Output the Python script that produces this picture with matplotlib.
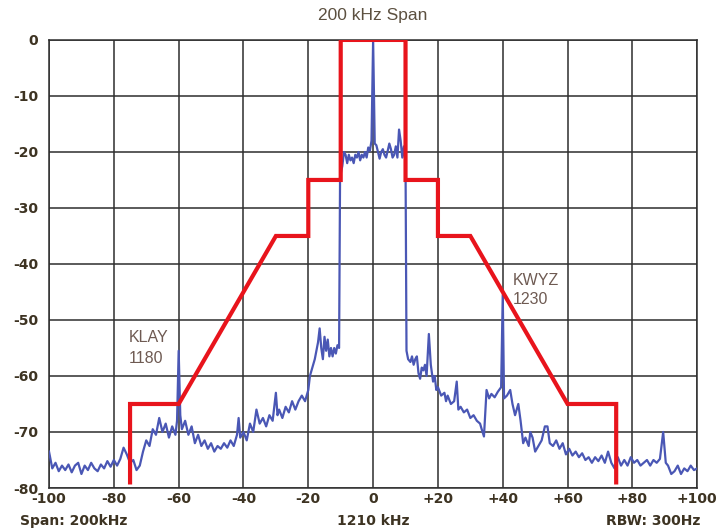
import matplotlib.pyplot as plt

# Mascara (limite) en rojo
mask_khz = [-75, -75, -60, -30, -20, -20, -10, -10, 10, 10, 20, 20, 30, 60, 75, 75]
mask_db = [-79, -65, -65, -35, -35, -25, -25, 0, 0, -25, -25, -35, -35, -65, -65, -79]

freq_khz = [
    -100, -99, -98, -97, -96, -95, -94, -93, -92, -91, -90, -89, -88, -87, -86,
    -85, -84, -83, -82, -81, -80, -79, -78, -77, -76, -75, -74, -73, -72, -71,
    -70, -69, -68, -67, -66, -65, -64, -63, -62, -61, -60.5, -60, -59.5, -59,
    -58, -57, -56, -55, -54, -53, -52, -51, -50, -49, -48, -47, -46, -45, -44,
    -43, -42, -41.5, -41, -40, -39, -38, -37, -36, -35, -34, -33, -32, -31, -30,
    -29.5, -29, -28, -27, -26, -25, -24, -23, -22, -21, -20, -19.5, -19, -18,
    -17, -16.5, -16, -15.5, -15, -14.5, -14, -13.5, -13, -12.5, -12, -11.5, -11,
    -10.5, -10.2, -9.5, -9, -8.5, -8, -7.5, -7, -6.5, -6, -5.5, -5, -4.5, -4,
    -3.5, -3, -2.5, -2, -1.5, -1, -0.5, 0, 0.5, 1, 1.5, 2, 2.5, 3, 3.5, 4, 4.5,
    5, 5.5, 6, 6.5, 7, 7.5, 8, 8.5, 9, 9.5, 10, 10.3, 10.8, 11.5, 12, 12.5, 13,
    13.5, 14, 14.5, 15, 15.5, 16, 16.5, 17.2, 17.8, 18.5, 19, 19.5, 20, 21, 22,
    22.5, 23, 24, 25, 25.8, 26.3, 27, 28, 29, 30, 31, 32, 33, 33.5, 34.2, 35,
    35.8, 36.5, 37.5, 38.5, 39.5, 40, 40.4, 41.3, 42.3, 43, 43.8, 44.8, 45.5,
    46.3, 47, 48, 48.5, 49.2, 50, 51, 52, 53, 53.8, 54.5, 55.5, 56.5, 57.5,
    58.5, 59.5, 60.5, 61.5, 62.5, 63.5, 64.5, 65.5, 66.5, 67.5, 68.5, 69.5,
    70.5, 71.5, 72.5, 73.5, 74.5, 75.5, 76.5, 77.5, 78.5, 79.5, 80.5, 81.5,
    82.5, 83.5, 84.5, 85.5, 86.5, 87.5, 88.5, 89.5, 90.3, 91, 92, 93, 94, 95,
    96, 97, 98, 99, 100]
level_db = [
    -73.5, -76.5, -75.5, -77, -76, -76.8, -75.8, -77.2, -76, -75.5, -77.5, -76,
    -76.8, -75.5, -76.5, -77, -75.8, -76.5, -75.2, -76.2, -75, -76, -74.8, -72.8,
    -74, -75.5, -75, -76.8, -76, -73.5, -71.5, -72.5, -69.5, -70.5, -67.5, -70,
    -68.5, -71, -69, -70.5, -68, -55.5, -67, -69.5, -68, -70.5, -69, -72, -70.5,
    -72.5, -71.5, -73, -72, -73.5, -72.5, -73, -72, -72.8, -71.5, -72.5, -70.5,
    -67.5, -71, -70, -71.5, -68.5, -70, -66, -68.5, -67.5, -69, -67, -68, -63,
    -67, -66, -67.5, -65.5, -66.5, -64.5, -66, -64.5, -63.5, -64.5, -62.5, -60,
    -59, -57, -54, -51.5, -55, -57, -53, -55.5, -53.5, -56.5, -55, -56.5, -55,
    -56, -54.5, -55, -24.5, -22.5, -20, -20.5, -22, -20.5, -21.5, -21, -22,
    -20.5, -21, -20, -21.5, -20.5, -21, -20, -21, -19.2, -19.8, -18, 0, -18.5,
    -18.8, -20, -21.2, -20, -19.5, -20.5, -21, -19.8, -18.5, -19.5, -21, -20.5,
    -19, -21, -16, -18, -21, -19, -22, -55.5, -57, -57.5, -56.5, -58, -57,
    -56.5, -59.5, -60.5, -58.5, -59, -58, -60, -52.5, -58, -61, -60, -62.5, -62,
    -63.5, -63, -64.5, -63.5, -65, -64.5, -61, -66, -65.5, -66.5, -66, -67.5,
    -67, -68, -68.5, -69.5, -70.8, -62.5, -64, -63.2, -63.8, -62.8, -62, -45.5,
    -64, -63.5, -62.5, -65, -67, -65, -68, -72, -71, -72.5, -70, -71, -73.5,
    -72.5, -71.5, -69, -69, -72, -72.5, -71.5, -73, -72, -74, -73, -74.2, -73.5,
    -74.5, -73.8, -75, -74.5, -75.5, -74.5, -75.2, -74.2, -75.5, -73.5, -75.5,
    -76.5, -74.5, -76, -75, -76, -74.5, -75.5, -75, -76, -75.5, -75, -76, -75,
    -75.5, -74.8, -70, -75.5, -76, -77.5, -77, -76, -77.5, -76.5, -77, -76,
    -76.8, -76.5]

xticks = [-100, -80, -60, -40, -20, 0, 20, 40, 60, 80, 100]
xlabels = ["-100", "-80", "-60", "-40", "-20", "0", "+20", "+40", "+60", "+80", "+100"]
yticks = [0, -10, -20, -30, -40, -50, -60, -70, -80]
ylabels = ["0", "-10", "-20", "-30", "-40", "-50", "-60", "-70", "-80"]

texto = "#3d3322"
marron = "#6e5a52"

fig = plt.figure(figsize=(7.21, 5.29), dpi=100)
ax = fig.add_axes([0.068, 0.0775, 0.899, 0.847])

# Espectro y mascara
ax.plot(freq_khz, level_db, color="#4a57b5", linewidth=1.6, zorder=3)
ax.plot(mask_khz, mask_db, color="#e8141c", linewidth=3, zorder=4,
        solid_joinstyle="miter")

ax.set_xlim(-100, 100)
ax.set_ylim(-80, 0)
ax.set_xticks(xticks)
ax.set_xticklabels(xlabels)
ax.set_yticks(yticks)
ax.set_yticklabels(ylabels)
ax.tick_params(length=0, colors=texto, labelsize=10)
ax.tick_params(axis="x", pad=3)
ax.tick_params(axis="y", pad=8)
for lab in ax.get_xticklabels() + ax.get_yticklabels():
    lab.set_fontweight("heavy")
ax.grid(True, color="#2e2e2e", linewidth=1.1, zorder=1)
for s in ax.spines.values():
    s.set_color("#2e2e2e")
    s.set_linewidth(1.1)

# Titulo y etiquetas
fig.text(0.517, 0.97, "200 kHz Span", ha="center", va="center",
         fontsize=12.5, color="#5c5040", family="Liberation Sans")
ax.text(-75.5, -53.2, "KLAY", fontsize=11.5, color=marron,
        family="Liberation Sans", va="center")
ax.text(-75.5, -56.8, "1180", fontsize=11.5, color=marron,
        family="Liberation Sans", va="center")
ax.text(43.2, -43.0, "KWYZ", fontsize=11.5, color=marron,
        family="Liberation Sans", va="center")
ax.text(43.2, -46.4, "1230", fontsize=11.5, color=marron,
        family="Liberation Sans", va="center")

fig.text(0.028, 0.016, "Span: 200kHz", ha="left", va="center",
         fontsize=10, fontweight="heavy", color=texto)
fig.text(0.517, 0.016, "1210 kHz", ha="center", va="center",
         fontsize=10, fontweight="heavy", color=texto)
fig.text(0.972, 0.016, "RBW: 300Hz", ha="right", va="center",
         fontsize=10, fontweight="heavy", color=texto)

fig.savefig("out.png", dpi=100)
